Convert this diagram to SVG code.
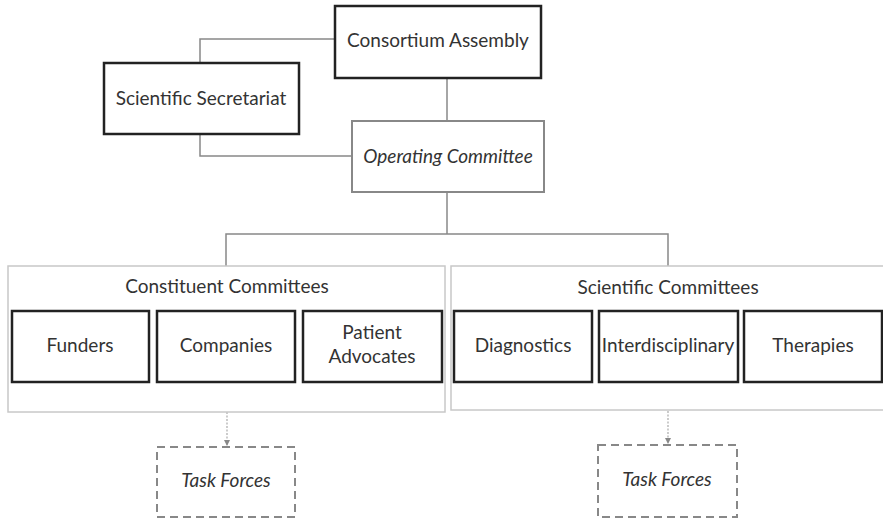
<svg xmlns="http://www.w3.org/2000/svg" width="883" height="522" viewBox="0 0 883 522">
<defs>
<style>
.t{font-family:Lato,"Open Sans","Liberation Sans",sans-serif;font-size:19px;fill:#333;text-anchor:middle}
.i{font-style:italic}
.box{fill:#fff;stroke:#222;stroke-width:2.5}
.op{fill:#fff;stroke:#888;stroke-width:2}
.grp{fill:#fff;stroke:#c8c8c8;stroke-width:1.5}
.tf{fill:#fff;stroke:#888;stroke-width:2;stroke-dasharray:8 5}
.c{fill:none;stroke:#888;stroke-width:1.5}
.d{fill:none;stroke:#aaa;stroke-width:1.2;stroke-dasharray:2 1.5}
</style>
<marker id="ah" markerWidth="6" markerHeight="6" refX="5" refY="3" orient="auto" markerUnits="userSpaceOnUse">
<path d="M0,0 L6,3 L0,6 Z" fill="#888"/>
</marker>
</defs>
<rect width="883" height="522" fill="#fff"/>
<g id="connectors">
<path class="c" d="M335,39 H200 V63"/>
<path class="c" d="M200,134 V156 H352"/>
<path class="c" d="M447,78 V121"/>
<path class="c" d="M447,192 V234"/>
<path class="c" d="M226,266 V234 H668 V266"/>
<path class="d" d="M227,412 V445" marker-end="url(#ah)"/>
<path class="d" d="M668,411 V443" marker-end="url(#ah)"/>
</g>
<g id="consortium-assembly">
<rect class="box" x="335" y="6" width="206" height="72"/>
<text class="t" x="438" y="47">Consortium Assembly</text>
</g>
<g id="scientific-secretariat">
<rect class="box" x="104" y="63" width="195" height="71"/>
<text class="t" x="201" y="105">Scientific Secretariat</text>
</g>
<g id="operating-committee">
<rect class="op" x="352" y="121" width="192" height="71"/>
<text class="t i" x="448" y="163">Operating Committee</text>
</g>
<g id="constituent-committees">
<rect class="grp" x="8" y="266" width="437" height="146"/>
<text class="t" x="227" y="293">Constituent Committees</text>
</g>
<g id="funders">
<rect class="box" x="12" y="311" width="137" height="71"/>
<text class="t" x="80" y="352">Funders</text>
</g>
<g id="companies">
<rect class="box" x="157" y="311" width="138" height="71"/>
<text class="t" x="226" y="352">Companies</text>
</g>
<g id="patient-advocates">
<rect class="box" x="303" y="311" width="139" height="71"/>
<text class="t" x="372" y="339">Patient</text>
<text class="t" x="372" y="363">Advocates</text>
</g>
<g id="scientific-committees">
<rect class="grp" x="451" y="266" width="440" height="144"/>
<text class="t" x="668" y="294">Scientific Committees</text>
</g>
<g id="diagnostics">
<rect class="box" x="454" y="311" width="138" height="71"/>
<text class="t" x="523" y="352">Diagnostics</text>
</g>
<g id="interdisciplinary">
<rect class="box" x="599" y="311" width="139" height="71"/>
<text class="t" x="668" y="352">Interdisciplinary</text>
</g>
<g id="therapies">
<rect class="box" x="744" y="311" width="138" height="71"/>
<text class="t" x="813" y="352">Therapies</text>
</g>
<g id="task-forces-1">
<rect class="tf" x="157" y="447" width="138" height="70"/>
<text class="t i" x="226" y="487">Task Forces</text>
</g>
<g id="task-forces-2">
<rect class="tf" x="598" y="445" width="139" height="72"/>
<text class="t i" x="667" y="486">Task Forces</text>
</g>
</svg>
